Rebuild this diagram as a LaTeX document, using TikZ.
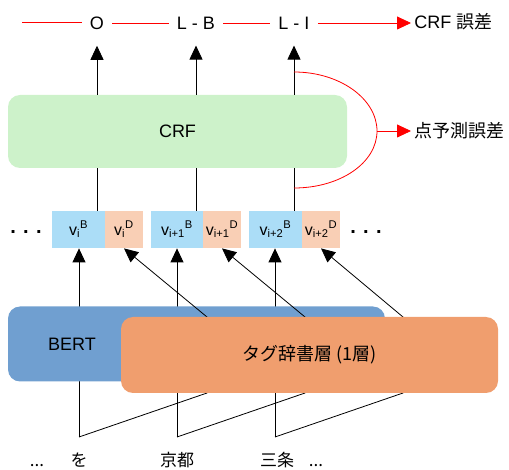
\documentclass[tikz,border=0pt]{standalone}
\usepackage{fontspec}
\setmainfont{Liberation Sans}
\newfontfamily\jpfont{Noto Sans CJK JP}
\usetikzlibrary{arrows.meta}
\definecolor{crfgreen}{HTML}{CDF2CA}
\definecolor{vblue}{HTML}{ABDDF7}
\definecolor{vorange}{HTML}{F9CFB5}
\definecolor{bertblue}{HTML}{709FD0}
\definecolor{tagorange}{HTML}{F09E6E}

\begin{document}
\begin{tikzpicture}[x=1pt,y=-1pt,>={Triangle[length=14pt,width=13pt]},line width=.8pt,
                    font=\fontsize{18}{21}\selectfont]
\tikzset{block/.style = {rounded corners=12pt,inner sep=0pt},
         vbox/.style  = {minimum height=37pt,inner sep=0pt,
                         font=\fontsize{16}{18}\selectfont},
         tagname/.style = {inner xsep=8pt,inner ysep=4pt},
         word/.style  = {anchor=base,inner sep=0pt,font=\fontsize{17}{20}\selectfont\jpfont},
         err/.style   = {red,->}}
\useasboundingbox (0,0) rectangle (509,470);

\node[block,fill=crfgreen,minimum width=339pt,minimum height=73pt] (crf) at (177.5,131.5) {CRF};

\node[vbox,fill=vblue,minimum width=53pt]   (vb1) at (78.5,229.5) {v\textsubscript{i}\textsuperscript{B}};
\node[vbox,fill=vorange,minimum width=38pt] (vd1) at (124,229.5)  {v\textsubscript{i}\textsuperscript{D}};
\node[vbox,fill=vblue,minimum width=53pt]   (vb2) at (177,229.5)  {v\textsubscript{i+1}\textsuperscript{B}};
\node[vbox,fill=vorange,minimum width=38pt] (vd2) at (222,229.5)  {v\textsubscript{i+1}\textsuperscript{D}};
\node[vbox,fill=vblue,minimum width=53pt]   (vb3) at (275.5,229.5) {v\textsubscript{i+2}\textsuperscript{B}};
\node[vbox,fill=vorange,minimum width=38pt] (vd3) at (321,229.5)  {v\textsubscript{i+2}\textsuperscript{D}};
\node[anchor=base,font=\fontsize{20}{22}\selectfont\bfseries] (ldots) at (26,234) {. . .};
\node[anchor=base,font=\fontsize{20}{22}\selectfont\bfseries] (rdots) at (366,234) {. . .};

\node[tagname] (o)  at (97,23)  {O};
\node[tagname] (lb) at (196,23) {L - B};
\node[tagname] (li) at (294,23) {L - I};
\node[anchor=west,inner xsep=3pt] (crferr) at (411,22) {CRF {\jpfont 誤差}};
\coordinate (rstart) at (22,22);

\draw[red] (rstart) -- (rstart -| o.west);
\draw[red] (o.east) -- (lb.west);
\draw[red] (lb.east) -- (li.west);
\draw[err] (li.east) -- (li.east -| crferr.west);

\foreach \v/\t in {vb1/o,vb2/lb,vb3/li}{
  \draw (\v.north -| \t) -- (crf.south -| \t);
  \draw[->,shorten >=12pt] (crf.north -| \t) -- (\t.south);
}

\coordinate (ctop) at (294,72);
\coordinate (cmid) at (377,131);
\coordinate (cbot) at (294,188);
\node[anchor=west,inner xsep=3pt] (pterr) at (411,131) {\jpfont 点予測誤差};
\draw[red] (ctop) .. controls +(46,0) and +(0,-32) .. (cmid)
                  .. controls +(0,32) and +(46,0) .. (cbot);
\draw[err] (cmid) -- (pterr.west);

\coordinate (p1) at (79,437);
\coordinate (p2) at (177,437);
\coordinate (p3) at (275,437);
\foreach \p/\v in {p1/vb1,p2/vb2,p3/vb3}
  \draw[->] (\p) -- (\p |- \v.south);

\node[block,fill=bertblue,minimum width=377pt,minimum height=75pt] (bert) at (196.5,344) {};
\node (berttxt) at (72,344) {BERT};

\foreach \p/\v in {p1/vd1,p2/vd2,p3/vd3}
  \draw[->] (\p) -- ++(128,-44) -- ++(0,-76) -- (\v.south);

\node[block,fill=tagorange,minimum width=377pt,minimum height=76pt] (tag) at (309.5,355)
  {\jpfont タグ辞書層 (1層)};

\node[word] (w0) at (37,466) {...};
\node[word] (w1) at (79,466) {を};
\node[word] (w2) at (177,466) {京都};
\node[word] (w3) at (277,466) {三条};
\node[word] (w4) at (316,466) {...};
\end{tikzpicture}
\end{document}
